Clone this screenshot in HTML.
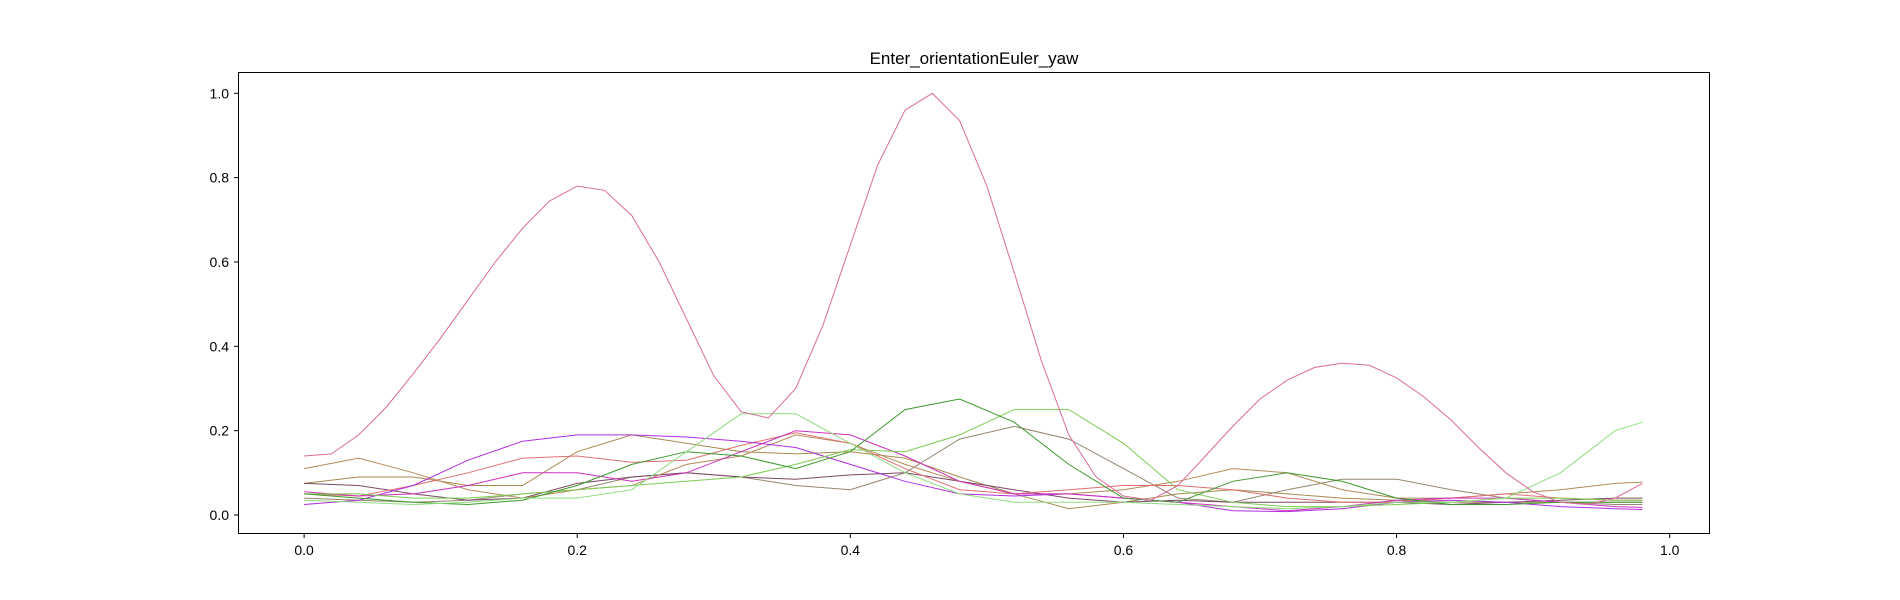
<!DOCTYPE html>
<html><head><meta charset="utf-8"><style>
html,body{margin:0;padding:0;width:1900px;height:600px;overflow:hidden;background:#fff;}
svg{display:block;}
svg text{font-family:"Liberation Sans","DejaVu Sans",sans-serif;fill:#000;}
</style></head><body>
<svg id="chart" width="1900" height="600" viewBox="0 0 1900 600" xmlns="http://www.w3.org/2000/svg">
<rect width="1900" height="600" fill="#fff"/>
<text x="974" y="64" font-size="17" text-anchor="middle">Enter_orientationEuler_yaw</text>
<g id="plot"></g>
<rect x="238.5" y="72.5" width="1471" height="461" fill="none" stroke="#000" stroke-width="1"/>
<g id="axes"></g>
</svg>
<script>
const fineX = [0,0.02,0.04,0.06,0.08,0.10,0.12,0.14,0.16,0.18,0.20,0.22,0.24,0.26,0.28,0.30,0.32,0.34,0.36,0.38,0.40,0.42,0.44,0.46,0.48,0.50,0.52,0.54,0.56,0.58,0.60,0.62,0.64,0.66,0.68,0.70,0.72,0.74,0.76,0.78,0.80,0.82,0.84,0.86,0.88,0.90,0.92,0.94,0.96,0.98];
const mainPink = [0.14,0.145,0.19,0.255,0.335,0.42,0.51,0.6,0.68,0.745,0.78,0.77,0.71,0.6,0.465,0.33,0.245,0.23,0.3,0.45,0.64,0.83,0.96,1.0,0.935,0.78,0.575,0.365,0.19,0.09,0.045,0.035,0.07,0.14,0.21,0.275,0.32,0.35,0.36,0.355,0.325,0.28,0.225,0.16,0.1,0.055,0.03,0.025,0.04,0.075];
const coarseX = [0,0.04,0.08,0.12,0.16,0.20,0.24,0.28,0.32,0.36,0.40,0.44,0.48,0.52,0.56,0.60,0.64,0.68,0.72,0.76,0.80,0.84,0.88,0.92,0.96,0.98];
const lightGreen = [0.035,0.03,0.025,0.03,0.04,0.04,0.06,0.15,0.24,0.24,0.17,0.1,0.05,0.03,0.03,0.03,0.025,0.02,0.015,0.02,0.03,0.03,0.04,0.1,0.2,0.22];
const yellowGreen = [0.05,0.05,0.04,0.04,0.05,0.06,0.07,0.08,0.09,0.12,0.155,0.15,0.19,0.25,0.25,0.17,0.06,0.03,0.02,0.02,0.025,0.03,0.04,0.04,0.035,0.035];
const darkGreen = [0.05,0.04,0.03,0.025,0.035,0.07,0.12,0.15,0.14,0.11,0.15,0.25,0.275,0.22,0.12,0.04,0.03,0.08,0.1,0.08,0.04,0.025,0.025,0.03,0.03,0.03];
const violet = [0.025,0.035,0.07,0.13,0.175,0.19,0.19,0.185,0.175,0.16,0.12,0.08,0.05,0.045,0.05,0.04,0.03,0.01,0.008,0.015,0.03,0.035,0.03,0.02,0.015,0.013];
const tan = [0.11,0.135,0.1,0.06,0.04,0.06,0.07,0.12,0.14,0.19,0.17,0.12,0.08,0.05,0.05,0.06,0.08,0.11,0.1,0.06,0.04,0.04,0.05,0.06,0.075,0.078];
const olive = [0.075,0.09,0.09,0.07,0.07,0.15,0.19,0.17,0.15,0.145,0.15,0.135,0.09,0.05,0.015,0.03,0.05,0.06,0.05,0.04,0.035,0.03,0.03,0.03,0.03,0.03];
const salmon = [0.05,0.045,0.07,0.1,0.135,0.14,0.125,0.13,0.165,0.195,0.17,0.11,0.06,0.05,0.06,0.07,0.07,0.06,0.04,0.03,0.03,0.04,0.05,0.04,0.035,0.035];
const magenta = [0.055,0.045,0.05,0.07,0.1,0.1,0.08,0.1,0.15,0.2,0.19,0.14,0.08,0.05,0.05,0.04,0.03,0.02,0.01,0.02,0.035,0.04,0.04,0.03,0.02,0.018];
const plum = [0.075,0.07,0.05,0.035,0.04,0.075,0.09,0.1,0.09,0.085,0.095,0.1,0.08,0.06,0.04,0.03,0.035,0.03,0.03,0.03,0.03,0.025,0.03,0.035,0.04,0.04];
const greyOlive = [0.04,0.035,0.03,0.035,0.05,0.06,0.09,0.1,0.09,0.07,0.06,0.1,0.18,0.21,0.18,0.11,0.04,0.03,0.06,0.085,0.085,0.06,0.04,0.03,0.025,0.025];
const xTicks = [0,0.2,0.4,0.6,0.8,1.0];
const xTickLabels = ["0.0","0.2","0.4","0.6","0.8","1.0"];
const yTicks = [0,0.2,0.4,0.6,0.8,1.0];
const yTickLabels = ["0.0","0.2","0.4","0.6","0.8","1.0"];

const NS = "http://www.w3.org/2000/svg";
function xs(v){return 304.1 + v*1365.6;}
function ys(v){return 515 - v*421.7;}
const plot = document.getElementById('plot');
const axes = document.getElementById('axes');
function drawLine(xArr, yArr, color, name){
  const p = document.createElementNS(NS,'polyline');
  p.setAttribute('points', yArr.map((v,i)=>xs(xArr[i]).toFixed(1)+','+ys(v).toFixed(1)).join(' '));
  p.setAttribute('fill','none');
  p.setAttribute('stroke',color);
  p.setAttribute('stroke-width','1');
  
  
  plot.appendChild(p);
}
drawLine(coarseX, olive, '#a88a50', 'series-olive');
drawLine(coarseX, greyOlive, '#948670', 'series-grey-olive');
drawLine(coarseX, plum, '#7a4a66', 'series-plum');
drawLine(coarseX, tan, '#b48a5a', 'series-tan');
drawLine(coarseX, salmon, '#e07070', 'series-salmon');
drawLine(coarseX, violet, '#b030e0', 'series-violet');
drawLine(coarseX, magenta, '#d030c0', 'series-magenta');
drawLine(coarseX, yellowGreen, '#7ccc50', 'series-yellow-green');
drawLine(coarseX, darkGreen, '#3c9a2c', 'series-dark-green');
drawLine(coarseX, lightGreen, '#90dc80', 'series-light-green');
drawLine(fineX, mainPink, '#dc6a9a', 'series-main-pink');

xTicks.forEach((t,i)=>{
  const l = document.createElementNS(NS,'line');
  l.setAttribute('x1',xs(t)); l.setAttribute('x2',xs(t));
  l.setAttribute('y1',533); l.setAttribute('y2',538);
  l.setAttribute('stroke','#000');
  
  
  axes.appendChild(l);
  const tx = document.createElementNS(NS,'text');
  tx.setAttribute('x',xs(t)); tx.setAttribute('y',555);
  tx.setAttribute('font-size','14'); tx.setAttribute('text-anchor','middle');
  tx.textContent = xTickLabels[i];
  
  
  axes.appendChild(tx);
});
yTicks.forEach((t,i)=>{
  const l = document.createElementNS(NS,'line');
  l.setAttribute('x1',234); l.setAttribute('x2',239);
  l.setAttribute('y1',ys(t)); l.setAttribute('y2',ys(t));
  l.setAttribute('stroke','#000');
  
  
  axes.appendChild(l);
  const tx = document.createElementNS(NS,'text');
  tx.setAttribute('x',229); tx.setAttribute('y',ys(t)+5);
  tx.setAttribute('font-size','14'); tx.setAttribute('text-anchor','end');
  tx.textContent = yTickLabels[i];
  
  
  axes.appendChild(tx);
});
</script>
</body></html>
